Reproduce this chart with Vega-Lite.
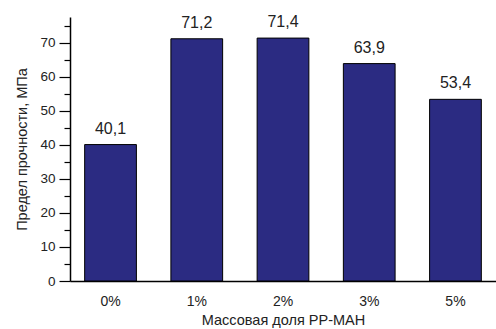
{
  "$schema": "https://vega.github.io/schema/vega-lite/v6.json",
  "width": 426,
  "height": 264,
  "autosize": "none",
  "padding": {"left": 70, "top": 17, "right": 0, "bottom": 48},
  "config": {
    "locale": {"number": {"decimal": ",", "thousands": " ", "grouping": [3], "currency": ["", ""]}},
    "view": {"stroke": null},
    "font": "Liberation Sans"
  },
  "data": {"values": [
    {"share": "0%", "strength": 40.1},
    {"share": "1%", "strength": 71.2},
    {"share": "2%", "strength": 71.4},
    {"share": "3%", "strength": 63.9},
    {"share": "5%", "strength": 53.4}
  ]},
  "encoding": {
    "x": {"field": "share", "type": "nominal", "sort": null,
      "scale": {"paddingInner": 0.4, "paddingOuter": 0.17},
      "axis": {"title": "Массовая доля PP-MAH", "labelAngle": 0, "ticks": false,
        "domainColor": "#000", "domainWidth": 1.5, "labelFontSize": 14, "labelColor": "#222",
        "labelPadding": 13, "titleFontSize": 14.5, "titleFontWeight": "normal", "titleColor": "#222", "titlePadding": 5}},
    "y": {"field": "strength", "type": "quantitative",
      "scale": {"domain": [0, 77.6], "nice": false},
      "axis": {"title": "Предел прочности, МПа", "values": [0,5,10,15,20,25,30,35,40,45,50,55,60,65,70,75],
        "labelExpr": "datum.value % 10 === 0 ? datum.label : ''",
        "tickSize": {"condition": {"test": "datum.value % 10 === 0", "value": 11}, "value": 6},
        "grid": false, "domainColor": "#000", "domainWidth": 1.5, "tickColor": "#000", "tickWidth": 1.2,
        "labelFontSize": 13.5, "labelColor": "#222", "labelPadding": 4,
        "titleFontSize": 14.5, "titleFontWeight": "normal", "titleColor": "#222", "titlePadding": 10}}
  },
  "layer": [
    {"mark": {"type": "bar", "color": "#2b2b82", "stroke": "#000", "strokeWidth": 1}},
    {"mark": {"type": "text", "baseline": "bottom", "dy": -8, "fontSize": 16, "color": "#222"},
     "encoding": {"text": {"field": "strength", "type": "quantitative", "format": ".1f"}}}
  ]
}
